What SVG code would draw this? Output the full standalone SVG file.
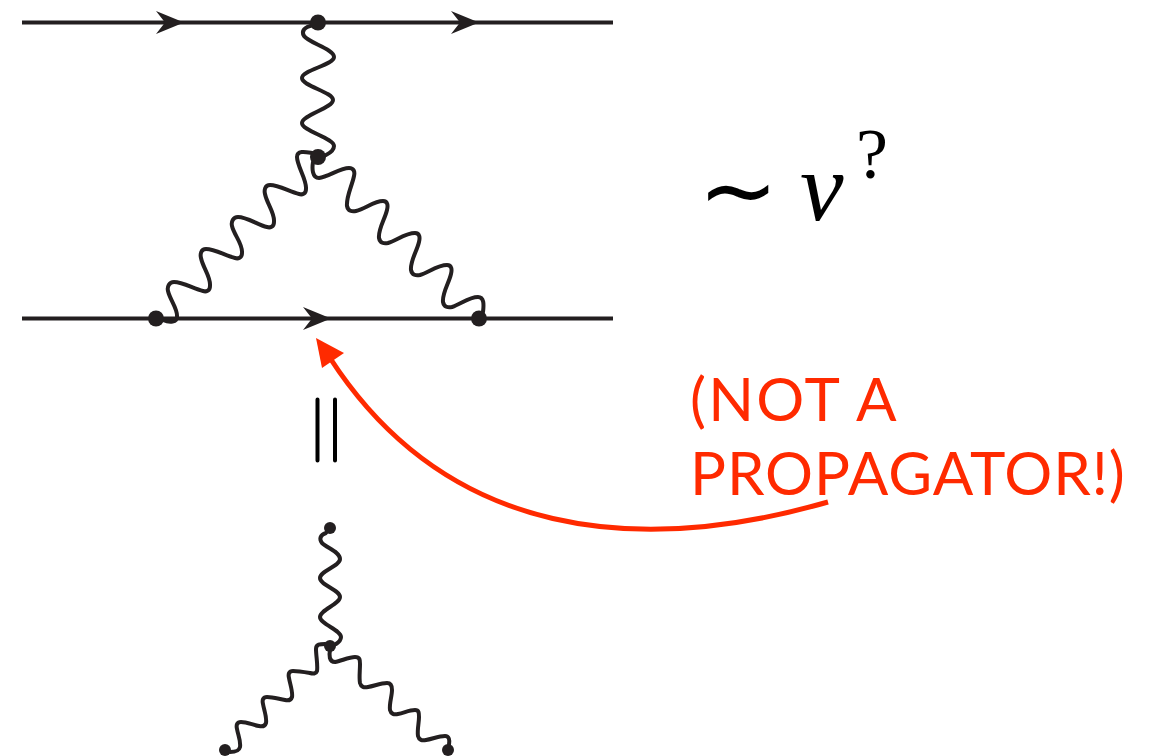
<svg xmlns="http://www.w3.org/2000/svg" width="1149" height="756" viewBox="0 0 1149 756">
<style>
.line{fill:none;stroke:#231f20;stroke-width:4}
.wig{fill:none;stroke:#231f20;stroke-width:4;stroke-linecap:round;stroke-linejoin:round}
.dot{fill:#231f20}
.red{fill:#ff2a00;font-family:"Lato","Liberation Sans",sans-serif;font-size:60px}
.math{fill:#000;font-family:"Liberation Serif",serif}
</style>
<rect width="1149" height="756" fill="#fff"/>
<g id="connectors">
<path class="line" d="M22 22.500H613M22 318.500H613"/>
<path class="dot" d="M156 11L184 22.500L156 34L165 22.500Z"/>
<path class="dot" d="M451 11L479 22.500L451 34L460 22.500Z"/>
<path class="dot" d="M303 307L331 318.500L303 330L312 318.500Z"/>
<path class="wig" d="M314 25C304 27 301 31 304 36C309 43 334 49 334 57C334 65 302 70 302 78C302 86 333 92 333 100C333 108 302 115 302 123C302 131 334 138 334 146C334 150 330 153 326 155"/>
<path class="wig" d="M312 153C306 152 297 150 297 157C297 166 307 180 306 189C306 194 302 195 299 194C290 192 279 185 270 185C265 185 264 190 265 194C267 204 275 213 274 222C274 227 270 228 267 227C258 225 247 217 238 217C233 217 231 222 232 226C234 235 243 244 242 253C242 258 238 259 235 258C226 256 215 249 206 249C201 249 200 254 201 258C203 268 211 277 210 286C210 291 206 292 203 291C194 289 183 282 174 282C169 282 167 287 168 291C170 300 178 309 177 317C177 322 170 323 163 320"/>
<path class="wig" d="M313 162C312 168 312 178 319 178C328 177 340 168 349 168C354 168 355 172 354 176C352 186 346 197 347 206C348 211 352 212 356 211C365 209 374 201 383 201C388 201 388 206 387 210C385 219 378 229 379 238C380 243 384 244 388 243C397 240 406 233 415 233C420 233 420 238 419 242C417 251 410 261 411 270C412 275 416 276 420 275C429 272 438 265 447 265C452 265 452 270 451 274C449 283 442 293 443 302C444 307 448 308 452 307C461 304 469 297 478 297C484 297 484 304 483 312"/>
<path class="wig" d="M326 533C320 535 319 539 322 543C327 548 340 552 340 559C340 566 320 571 320 578C320 585 340 590 340 597C340 604 320 610 320 617C320 624 341 630 341 637C341 640 339 642 336 644"/>
<path class="wig" d="M325 644C320 644 316 644 316 649C316 656 318 665 317 671C316 674 313 674 310 673C304 672 298 671 293 671C289 671 288 674 289 678C290 684 293 692 292 697C291 700 289 701 285 700C279 699 273 697 267 697C263 697 262 700 263 704C264 710 267 717 266 723C265 726 263 727 259 726C253 725 247 722 241 722C237 722 236 725 237 729C238 735 241 741 240 747C239 751 236 752 230 752"/>
<path class="wig" d="M330 650C329 655 329 662 335 662C341 661 349 657 355 657C360 657 360 660 360 664C360 670 359 678 360 683C361 687 364 688 368 687C374 686 381 683 387 683C391 683 392 686 392 690C392 696 389 704 390 710C391 714 394 715 398 714C404 713 409 710 415 710C419 710 419 713 419 717C419 723 417 730 418 736C419 740 422 741 426 740C432 739 439 736 445 736C449 736 450 740 449 745"/>
<path d="M317.500 399.500V460.500M335 399.500V460.500" fill="none" stroke="#000" stroke-width="4" stroke-linecap="round"/>
<path d="M828 502C640 556 448 540 330 358" fill="none" stroke="#ff2a00" stroke-width="5"/>
<path d="M316 338L344 353L322 368Z" fill="#ff2a00"/>
</g>
<g id="node-top"><circle class="dot" cx="318" cy="22.500" r="8"/></g>
<g id="node-mid"><circle class="dot" cx="318" cy="157" r="8"/></g>
<g id="node-left"><circle class="dot" cx="156" cy="318.500" r="8"/></g>
<g id="node-right"><circle class="dot" cx="479" cy="318.500" r="8"/></g>
<g id="node-lower-top"><circle class="dot" cx="330" cy="528" r="6"/></g>
<g id="node-lower-mid"><circle class="dot" cx="330" cy="646" r="6"/></g>
<g id="node-lower-left"><circle class="dot" cx="225" cy="750" r="6"/></g>
<g id="node-lower-right"><circle class="dot" cx="448" cy="750" r="6"/></g>
<g id="label-scaling">
<text class="math" x="698" y="223" font-size="96">∼</text>
<text class="math" x="800" y="220" font-size="98" font-style="italic">v</text>
<text class="math" x="856" y="178" font-size="72">?</text>
</g>
<g id="label-note">
<text class="red" x="690" y="421" letter-spacing="2.200">(NOT A</text>
<text class="red" x="690" y="495" letter-spacing="0.900">PROPAGATOR!)</text>
</g>
</svg>
